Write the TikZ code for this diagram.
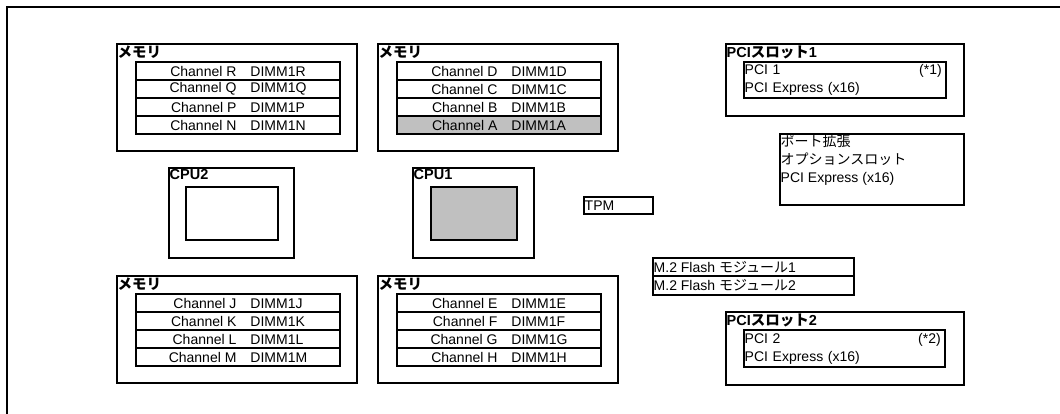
\documentclass[tikz,border=0pt]{standalone}
\usepackage{fontspec}
\setmainfont{Liberation Sans}
\newfontfamily\jp{Noto Sans CJK JP}
\definecolor{cpugray}{HTML}{C0C0C0}

\tikzset{
    box/.style={draw, line width=2pt, anchor=north west, inner sep=0pt},
    slot/.style={box, minimum width=204pt, minimum height=18pt, font=\fontsize{14}{16}\selectfont},
    title/.style={anchor=north west, inner xsep=1.5pt, inner ysep=2.5pt, font=\fontsize{14.5}{16}\selectfont\bfseries},
    plain/.style={anchor=north west, inner sep=1.5pt, align=left, font=\fontsize{14}{18}\selectfont}
}

\NewDocumentCommand{\drawmemory}{m m m m o}{
    \def\memX{#1}
    \def\memY{#2}
    \node[box, minimum width=240pt, minimum height=107pt] (#3) at (\memX,\memY) {};
    \node[title] at (#3.north west) {\jp メモリ};
    
    % rows of DIMM slots, one of them may be shaded
    \foreach \ch [count=\i] in {#4} {
        \IfNoValueTF{#5}{\def\rowfill{white}}{\ifnum\i=#5 \def\rowfill{cpugray}\else\def\rowfill{white}\fi}
        \node[slot, fill=\rowfill] (#3-\i) at (\memX+19,\memY+18*\i) {Channel \ch\quad DIMM1\ch};
    }
}

\begin{document}
\begin{tikzpicture}[x=1pt, y=-1pt]
        \useasboundingbox (0,0) rectangle (1060,414);
        \draw[line width=2.5pt] (7,430) |- (1080,7);

        \drawmemory{116}{43}{memR}{R,Q,P,N}
        \drawmemory{377}{43}{memD}{D,C,B,A}[4]
        \drawmemory{116}{275}{memJ}{J,K,L,M}
        \drawmemory{377}{275}{memE}{E,F,G,H}

        \node[box, minimum width=125pt, minimum height=90pt] (cpu2) at (168,167) {};
        \node[title] at (cpu2.north west) {CPU2};
        \node[box, minimum width=92pt, minimum height=53pt] (cpu2-die) at (185,186) {};

        \node[box, minimum width=121pt, minimum height=90pt] (cpu1) at (412,167) {};
        \node[title] at (cpu1.north west) {CPU1};
        \node[box, fill=cpugray, minimum width=86pt, minimum height=53pt] (cpu1-die) at (430,186) {};

        \node[box, minimum width=69pt, minimum height=17pt] (tpm) at (583,196) {};
        \node[plain, anchor=west] at (tpm.west) {TPM};

        \node[box, minimum width=201pt, minimum height=18pt] (m2a) at (652,257) {};
        \node[plain, anchor=west] at (m2a.west) {M.2 Flash {\jp モジュール}1};
        \node[box, minimum width=201pt, minimum height=19pt] (m2b) at (652,275) {};
        \node[plain, anchor=west] at (m2b.west) {M.2 Flash {\jp モジュール}2};

        \def\x{725}
        \def\y{43}
        \node[box, minimum width=238pt, minimum height=72pt] (pci1) at (\x,\y) {};
        \node[title] at (pci1.north west) {PCI{\jp スロット}1};
        \node[box, minimum width=202pt, minimum height=36pt] (pci1-card) at (\x+18,\y+18) {};
        \node[plain, anchor=west, text width=197pt] at (pci1-card.west) {PCI 1\hfill(*1)\\PCI Express (x16)};

        \node[box, minimum width=184pt, minimum height=71pt] (port) at (779,133) {};
        \node[plain] at (port.north west) {{\jp ポート拡張}\\{\jp オプションスロット}\\PCI Express (x16)};

        \def\y{311}
        \node[box, minimum width=238pt, minimum height=73pt] (pci2) at (\x,\y) {};
        \node[title] at (pci2.north west) {PCI{\jp スロット}2};
        \node[box, minimum width=201pt, minimum height=37pt] (pci2-card) at (\x+18,\y+18) {};
        \node[plain, anchor=west, text width=196pt] at (pci2-card.west) {PCI 2\hfill(*2)\\PCI Express (x16)};
        
    \end{tikzpicture}
\end{document}
